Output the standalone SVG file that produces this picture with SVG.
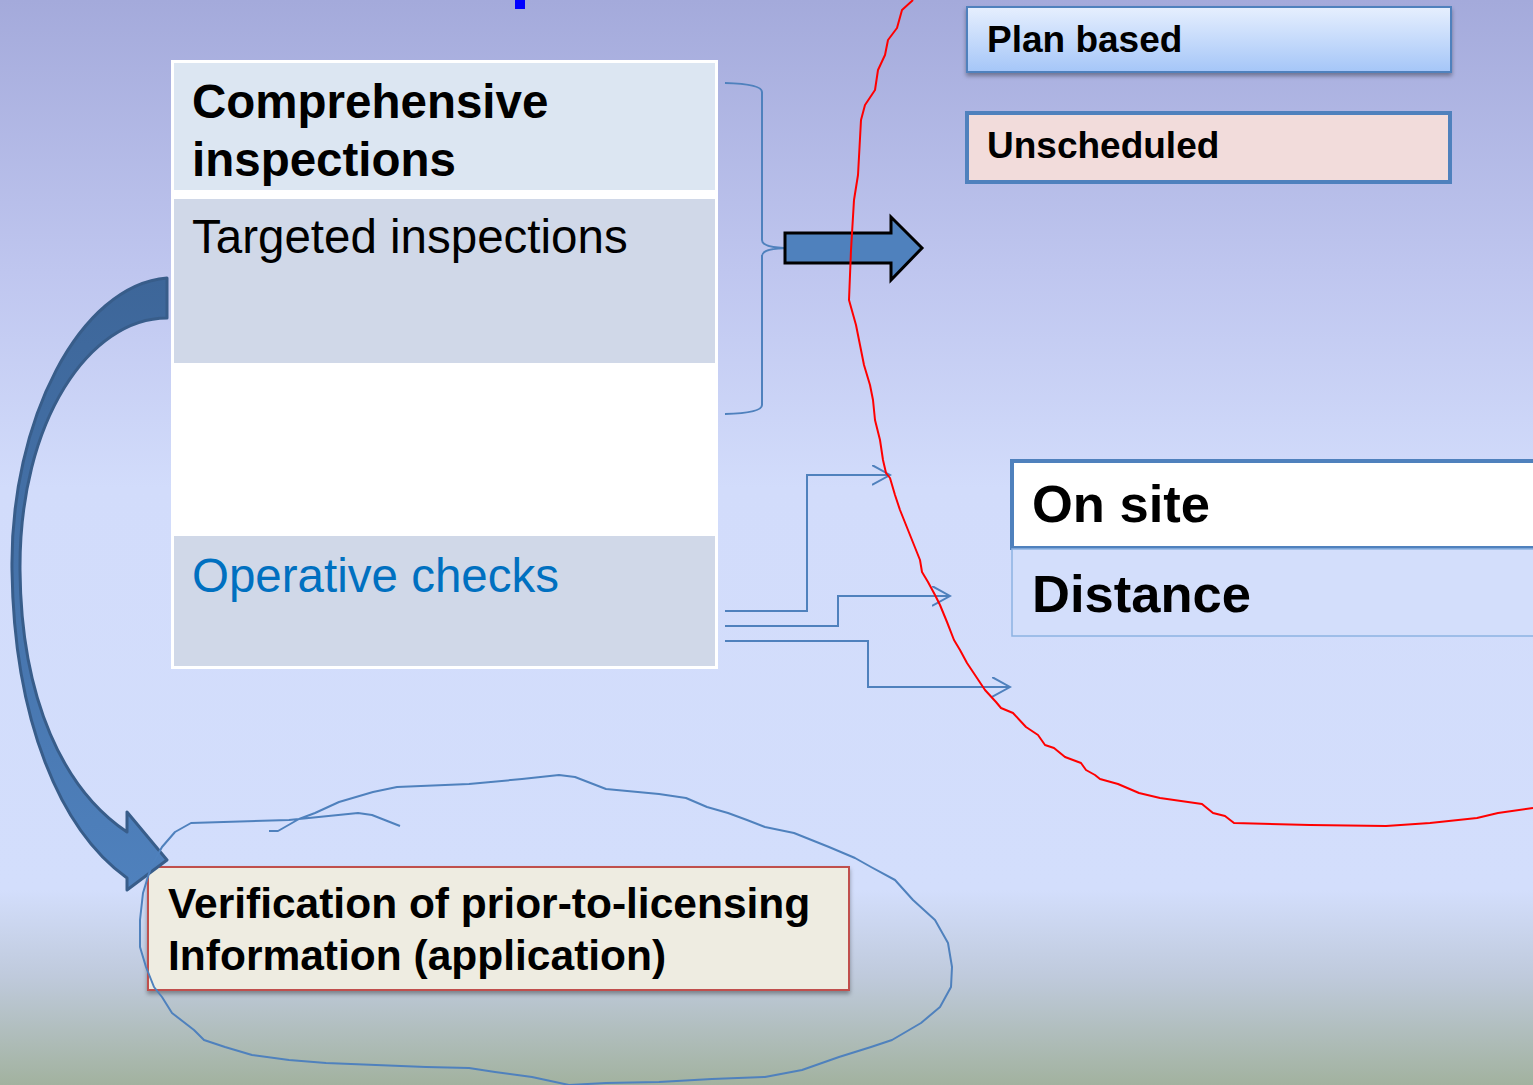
<svg xmlns="http://www.w3.org/2000/svg" width="1533" height="1085" viewBox="0 0 1533 1085">
<defs>
<linearGradient id="bg" x1="0" y1="0" x2="0" y2="1">
<stop offset="0" stop-color="#A4AADB"/>
<stop offset="0.25" stop-color="#BFC6EF"/>
<stop offset="0.45" stop-color="#D2DCFB"/>
<stop offset="0.82" stop-color="#D3DEFC"/>
<stop offset="0.9" stop-color="#BFCADC"/>
<stop offset="1" stop-color="#A2B29F"/>
</linearGradient>
<linearGradient id="planfill" x1="0" y1="0" x2="0" y2="1">
<stop offset="0" stop-color="#E6EFFE"/>
<stop offset="1" stop-color="#A5C6F8"/>
</linearGradient>
<linearGradient id="curvefill" x1="0" y1="0" x2="0" y2="1">
<stop offset="0" stop-color="#3D6699"/>
<stop offset="1" stop-color="#4F81BD"/>
</linearGradient>
<filter id="shadow" x="-5%" y="-10%" width="110%" height="130%">
<feDropShadow dx="0" dy="3" stdDeviation="2" flood-color="#000" flood-opacity="0.35"/>
</filter>
<marker id="open" markerWidth="20" markerHeight="22" refX="18" refY="10" orient="auto" markerUnits="userSpaceOnUse">
<path d="M0,0 L18,10 L0,20" fill="none" stroke="#4F81BD" stroke-width="2"/>
</marker>
</defs>
<style>
.b{font-family:"Liberation Sans",Arial,sans-serif;font-weight:bold;fill:#000}
.r{font-family:"Liberation Sans",Arial,sans-serif;fill:#000}
.conn{fill:none;stroke:#4F81BD;stroke-width:2}
</style>
<rect x="0" y="0" width="1533" height="1085" fill="url(#bg)"/>
<rect x="515" y="0" width="10" height="9" fill="#0000FF"/>

<g id="table">
<rect x="171" y="60" width="547" height="609" fill="#FFFFFF"/>
<g id="row-comprehensive">
<rect x="174" y="63" width="541" height="127" fill="#DCE6F2"/>
<text class="b" x="192" y="118" font-size="47.5">Comprehensive</text>
<text class="b" x="192" y="176" font-size="47.5">inspections</text>
</g>
<g id="row-targeted">
<rect x="174" y="199" width="541" height="164" fill="#D0D8E8"/>
<text class="r" x="192" y="253" font-size="47.5">Targeted inspections</text>
</g>
<g id="row-operative">
<rect x="174" y="536" width="541" height="130" fill="#D0D8E8"/>
<text class="r" x="192" y="592" font-size="47.5" style="fill:#0070C0">Operative checks</text>
</g>
</g>

<g id="plan-based">
<rect x="967" y="7" width="484" height="65" fill="url(#planfill)" stroke="#4F81BD" stroke-width="2" filter="url(#shadow)"/>
<text class="b" x="987" y="52" font-size="37">Plan based</text>
</g>
<g id="unscheduled">
<rect x="967" y="113" width="483" height="69" fill="#F2DCDB" stroke="#4F81BD" stroke-width="4"/>
<text class="b" x="987" y="158" font-size="37">Unscheduled</text>
</g>
<g id="on-site">
<rect x="1012" y="461" width="530" height="87" fill="#FFFFFF" stroke="#4F81BD" stroke-width="4"/>
<text class="b" x="1032" y="522" font-size="52.5">On site</text>
</g>
<g id="distance">
<rect x="1012" y="549" width="530" height="87" fill="#D3DEFB" stroke="#8DB3E2" stroke-width="1.5"/>
<text class="b" x="1032" y="612" font-size="52.5">Distance</text>
</g>
<g id="verification">
<rect x="148" y="867" width="701" height="123" fill="#EEECE1" stroke="#C0504D" stroke-width="2" filter="url(#shadow)"/>
<text class="b" x="168" y="918" font-size="42.5">Verification of prior-to-licensing</text>
<text class="b" x="168" y="970" font-size="42.5">Information (application)</text>
</g>

<g id="connectors">
<path class="conn" d="M725,83 Q762,84 762,92 L762,240 Q762,248 790,248 Q762,248 762,256 L762,405 Q762,413 725,414"/>
<path d="M785,233 L891,233 L891,217 L922,248 L891,280 L891,263 L785,263 Z" fill="#4F81BD" stroke="#000" stroke-width="3" stroke-linejoin="miter"/>
<path class="conn" d="M725,611 L807,611 L807,475 L890,475" marker-end="url(#open)"/>
<path class="conn" d="M725,626 L838,626 L838,596 L950,596" marker-end="url(#open)"/>
<path class="conn" d="M725,641 L868,641 L868,687 L1010,687" marker-end="url(#open)"/>
<path d="M167,278 C80,285 10,420 12,570 C14,720 60,830 127,878 L127,890 L167,860 L127,812 L127,832 C64,790 21,700 20,570 C19,420 90,318 167,318 Z" fill="url(#curvefill)" stroke="#385D8A" stroke-width="3" stroke-linejoin="round"/>
<path d="M913,0 L902,10 L897,28 L888,40 L885,55 L878,70 L875,90 L865,105 L861,120 L858,175 L854,200 L851,250 L849,300 L856,325 L860,345 L864,365 L870,385 L873,400 L875,420 L880,440 L883,460 L886,473 L890,478 L895,495 L900,510 L908,530 L914,545 L920,560 L922,572 L928,582 L935,595 L940,605 L947,622 L954,640 L960,650 L967,663 L975,675 L985,690 L996,702 L1001,708 L1013,713 L1026,727 L1038,735 L1045,745 L1054,748 L1065,757 L1081,763 L1086,770 L1095,775 L1100,779 L1118,784 L1139,793 L1160,798 L1202,804 L1213,813 L1225,816 L1234,823 L1310,825 L1386,826 L1430,823 L1477,818 L1498,813 L1533,808" fill="none" stroke="#FF0000" stroke-width="2" stroke-linejoin="round"/>
<path d="M269,831 L278,831 L299,819 L315,813 L339,802 L373,792 L397,787 L469,784 L522,779 L559,775 L575,777 L606,789 L659,794 L686,798 L707,807 L728,813 L747,820 L765,827 L794,833 L829,847 L855,858 L871,867 L895,880 L913,900 L935,920 L948,943 L952,967 L951,987 L940,1007 L921,1023 L892,1040 L871,1047 L839,1057 L802,1070 L765,1077 L712,1079 L659,1082 L606,1083 L569,1085 L532,1077 L495,1072 L469,1068 L426,1067 L326,1063 L289,1060 L252,1055 L225,1047 L204,1040 L194,1030 L172,1013 L162,997 L154,987 L146,967 L140,947 L140,920 L143,893 L151,867 L162,847 L175,832 L191,823 L289,820 L358,813 L372,815 L400,826" fill="none" stroke="#4F81BD" stroke-width="2" stroke-linejoin="round"/>
</g>
</svg>
